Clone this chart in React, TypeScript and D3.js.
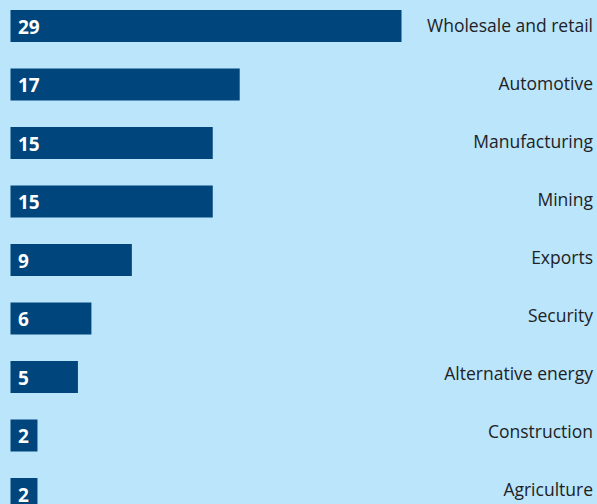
import React from "react";
import * as d3 from "d3";

const categories = [
  "Wholesale and retail",
  "Automotive",
  "Manufacturing",
  "Mining",
  "Exports",
  "Security",
  "Alternative energy",
  "Construction",
  "Agriculture",
];
const values = [29, 17, 15, 15, 9, 6, 5, 2, 2];

const W = 597;
const H = 504;

export default function App() {
  const x = d3.scaleLinear().domain([0, 29]).range([0, 391]);
  const y = d3
    .scaleBand<string>()
    .domain(categories)
    .range([10, 10 + 8 * 58.5 + 32])
    .paddingInner(1 - 32 / 58.5)
    .paddingOuter(0);
  const yLabel = d3
    .scalePoint<string>()
    .domain(categories)
    .range([32, 32 + 8 * 58]);
  const x0 = 10.5;

  return (
    <svg
      width={W}
      height={H}
      style={{ position: "absolute", left: 0, top: 0, display: "block" }}
    >
      <rect x={0} y={0} width={W} height={H} fill="#bae5fa" />
      {categories.map((c, i) => (
        <g key={c}>
          <rect
            x={x0}
            y={y(c)!}
            width={x(values[i])}
            height={y.bandwidth()}
            fill="#00457c"
          />
          <text
            x={18}
            y={y(c)! + 23.5}
            fill="#ffffff"
            fontFamily="'Open Sans', sans-serif"
            fontWeight={700}
            fontSize={19}
          >
            {values[i]}
          </text>
          <text
            x={593}
            y={yLabel(c)!}
            textAnchor="end"
            fill="#1e2226"
            fontFamily="'Open Sans', sans-serif"
            fontSize={17.5}
          >
            {c}
          </text>
        </g>
      ))}
    </svg>
  );
}
